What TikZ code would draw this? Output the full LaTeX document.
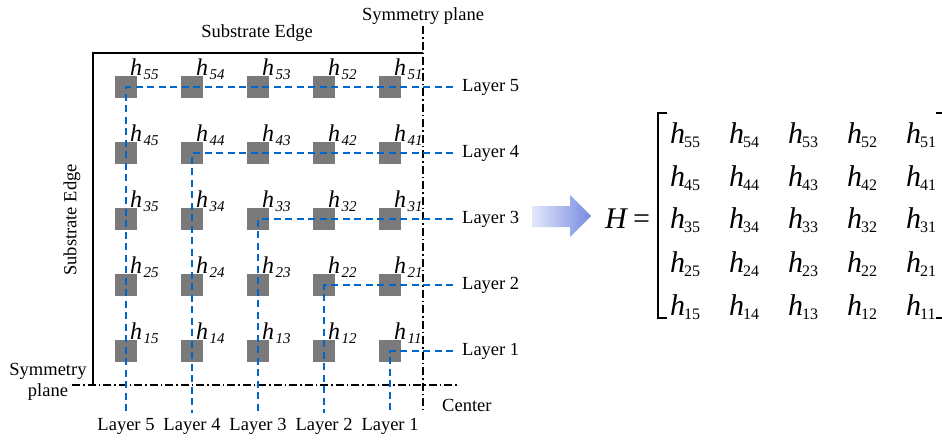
\documentclass[tikz,border=0pt]{standalone}
\usepackage{fontspec}
\setmainfont{Liberation Serif}
\usetikzlibrary{calc}
\definecolor{sqgray}{RGB}{122,122,122}
\definecolor{lblue}{RGB}{0,102,204}
\definecolor{arrL}{RGB}{228,232,250}
\definecolor{arrR}{RGB}{118,138,226}
\newcommand\gsub[1]{\hspace{1.5pt}\raisebox{-4pt}{\fontsize{15}{15}\selectfont\textit{#1}}}
\newcommand\msub[1]{\hspace{-1pt}\raisebox{-4pt}{\fontsize{16}{16}\selectfont #1}}
\begin{document}
\begin{tikzpicture}[x=1pt,y=-1pt,
  sq/.style={fill=sqgray, draw=none, minimum size=22pt, inner sep=0pt},
  hlab/.style={anchor=base west, inner sep=0pt, font=\fontsize{24}{24}\selectfont},
  txt/.style={font=\fontsize{18.5}{21}\selectfont, inner sep=0pt},
  layerline/.style={draw=lblue, line width=1.4pt, dash pattern=on 7pt off 4.5pt},
  edgeline/.style={draw=black, line width=1.8pt},
  symline/.style={draw=black, line width=1.3pt, dash pattern=on 8pt off 3pt on 1.5pt off 3pt},
  ment/.style={anchor=base west, inner sep=0pt, font=\fontsize{30}{30}\selectfont},
  brk/.style={draw=black, line width=1.2pt}]
\useasboundingbox (0,0) rectangle (942,439);

% squares and labels
\foreach \c in {1,...,5}{
  \foreach \r in {1,...,5}{
    \pgfmathtruncatemacro\i{6-\r}
    \pgfmathtruncatemacro\j{6-\c}
    \node[sq] (s\i\j) at ({126+66*(\c-1)},{87+66*(\r-1)}) {};
    \node[hlab] (l\i\j) at ($(s\i\j.center)+(4,-12)$) {\textit{h}\gsub{\i\j}};
  }
}

% substrate edges
\coordinate (eTL) at (93,53);
\coordinate (eTR) at (423,53);
\coordinate (eBL) at (93,385);
\draw[edgeline] (eTR) -- (eTL) -- (eBL);

% symmetry planes
\coordinate (svT) at (423,26);
\coordinate (svB) at (423,410);
\coordinate (shL) at (72,385);
\coordinate (shR) at (457,385);
\draw[symline] (svT) -- (svB);
\draw[symline] (shL) -- (shR);

% layer lines
\foreach \k in {1,...,5}{
  \coordinate (r\k) at (453,{87+66*(5-\k)});
  \coordinate (b\k) at ({126+66*(5-\k)},413);
  \draw[layerline] (r\k) -- (s\k\k.center) -- (b\k);
  \node[txt, anchor=west] (rl\k) at (462,{87+66*(5-\k)}) {Layer \k};
  \node[txt] (bl\k) at ({126+66*(5-\k)},426) {Layer \k};
}

% texts
\node[txt, anchor=west] (symtop) at (362,16) {Symmetry plane};
\node[txt] (subtop) at (257,33) {Substrate Edge};
\node[txt, rotate=90] (subleft) at (72,220) {Substrate Edge};
\node[txt, align=center] (symleft) at (48,382) {Symmetry\\plane};
\node[txt, anchor=west] (center) at (442,405) {Center};

% arrow
\shade[left color=arrL, right color=arrR] (532,206) -- (570,206) -- (570,195) -- (591,216) -- (570,237) -- (570,227) -- (532,227) -- cycle;

% matrix
\node[ment] (Heq) at (605,228) {\textit{H}\hspace{5pt}=};
\coordinate (lbT) at (667,113);
\coordinate (lbTc) at (658,113);
\coordinate (lbBc) at (658,318);
\coordinate (lbB) at (667,318);
\draw[brk] (lbT) -- (lbTc) -- (lbBc) -- (lbB);
\coordinate (rbT) at (936,113);
\coordinate (rbTc) at (943.5,113);
\coordinate (rbBc) at (943.5,318);
\coordinate (rbB) at (936,318);
\draw[brk] (rbT) -- (rbTc) -- (rbBc) -- (rbB);
\foreach \r/\yb in {1/143,2/186.5,3/228.5,4/272,5/315}{
  \foreach \c in {1,...,5}{
    \pgfmathtruncatemacro\i{6-\r}
    \pgfmathtruncatemacro\j{6-\c}
    \node[ment] (m\i\j) at ({670+59*(\c-1)},\yb) {\textit{h}\msub{\i\j}};
  }
}
\end{tikzpicture}
\end{document}
